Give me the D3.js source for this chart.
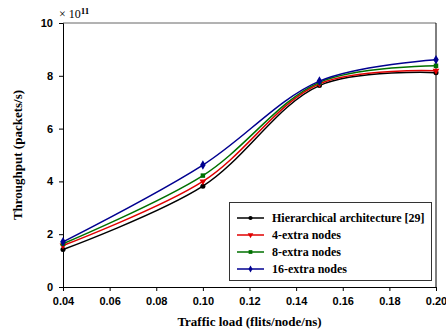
<!DOCTYPE html>
<html>
<head>
<meta charset="utf-8">
<script src="https://cdn.jsdelivr.net/npm/d3@7"></script>
<style>
  body { margin: 0; background: #fff; }
  svg text { fill: #000; }
</style>
</head>
<body>
<div id="chart"></div>
<script>
// traffic load (flits/node/ns)
var loads = [0.04, 0.10, 0.15, 0.20];
// throughput, x 10^11 packets/s
var hierarchical = [1.42, 3.82, 7.63, 8.12];
var extra4 = [1.57, 4.0, 7.7, 8.19];
var extra8 = [1.64, 4.22, 7.75, 8.38];
var extra16 = [1.71, 4.62, 7.8, 8.61];
var seriesNames = ["Hierarchical architecture [29]", "4-extra nodes", "8-extra nodes", "16-extra nodes"];
var xTicks = [0.04, 0.06, 0.08, 0.10, 0.12, 0.14, 0.16, 0.18, 0.20];
var yTicks = [0, 2, 4, 6, 8, 10];

var width = 446, height = 335;
var margin = {top: 23, right: 10, bottom: 48, left: 63};

var svg = d3.select("#chart").append("svg")
    .attr("width", width).attr("height", height);

var x = d3.scaleLinear().domain([0.04, 0.20]).range([margin.left, width - margin.right]);
var y = d3.scaleLinear().domain([0, 10]).range([height - margin.bottom, margin.top]);

var series = [
  {name: seriesNames[0], values: hierarchical, color: "#000000", symbol: d3.symbolCircle},
  {name: seriesNames[1], values: extra4, color: "#e00000", symbol: d3.symbolTriangle, flip: true},
  {name: seriesNames[2], values: extra8, color: "#007000", symbol: d3.symbolSquare},
  {name: seriesNames[3], values: extra16, color: "#000090", symbol: d3.symbolDiamond}
];

// frame: gray top, black right
svg.append("line")
  .attr("x1", x(0.04)).attr("x2", x(0.20))
  .attr("y1", y(10)).attr("y2", y(10))
  .attr("stroke", "#666").attr("stroke-width", 1);
svg.append("line")
  .attr("x1", x(0.20)).attr("x2", x(0.20))
  .attr("y1", y(10)).attr("y2", y(0))
  .attr("stroke", "#000").attr("stroke-width", 1);

var xAxis = svg.append("g")
  .attr("transform", "translate(0," + y(0) + ")")
  .call(d3.axisBottom(x).tickValues(xTicks).tickFormat(d3.format(".2f")).tickSize(4).tickPadding(6));
var yAxis = svg.append("g")
  .attr("transform", "translate(" + x(0.04) + ",0)")
  .call(d3.axisLeft(y).tickValues(yTicks).tickFormat(d3.format("d")).tickSize(4).tickPadding(6));

[xAxis, yAxis].forEach(function(a) {
  a.selectAll("path, line").attr("stroke", "#000");
  a.selectAll("text")
    .attr("font-family", "Liberation Sans, Arial, sans-serif")
    .attr("font-weight", "bold")
    .attr("font-size", "11px")
    .attr("fill", "#000");
});

// multiplier
var mult = svg.append("text")
  .attr("x", 59).attr("y", 18)
  .attr("font-family", "Liberation Serif, Times New Roman, serif")
  .attr("font-size", "12px");
mult.append("tspan").text("\u00d7 10");
mult.append("tspan").attr("dy", -4).attr("font-size", "9px").attr("font-weight", "bold").text("11");

// axis titles
svg.append("text")
  .attr("x", (x(0.04) + x(0.20)) / 2).attr("y", 326)
  .attr("text-anchor", "middle")
  .attr("font-family", "Liberation Serif, Times New Roman, serif")
  .attr("font-weight", "bold").attr("font-size", "13px")
  .text("Traffic load (flits/node/ns)");
svg.append("text")
  .attr("transform", "translate(22," + (y(0) + y(10)) / 2 + ") rotate(-90)")
  .attr("text-anchor", "middle")
  .attr("font-family", "Liberation Serif, Times New Roman, serif")
  .attr("font-weight", "bold").attr("font-size", "13px")
  .text("Throughput (packets/s)");

var line = d3.line()
  .x(function(d, i) { return x(loads[i]); })
  .y(function(d) { return y(d); })
  .curve(d3.curveCatmullRom.alpha(0.5));

function marker(s) {
  return d3.symbol().type(s.symbol).size(s.symbol === d3.symbolDiamond ? 26 : 20)();
}

series.forEach(function(s) {
  svg.append("path")
    .attr("d", line(s.values))
    .attr("fill", "none")
    .attr("stroke", s.color)
    .attr("stroke-width", 1.5);
  svg.selectAll(null).data(s.values).enter().append("path")
    .attr("d", marker(s))
    .attr("transform", function(d, i) {
      return "translate(" + x(loads[i]) + "," + y(d) + ")" + (s.flip ? " rotate(180)" : "");
    })
    .attr("fill", s.color);
});

// legend
var legend = svg.append("g");
legend.append("rect")
  .attr("x", 229.5).attr("y", 202.5).attr("width", 202).attr("height", 78)
  .attr("fill", "#fff").attr("stroke", "#333").attr("stroke-width", 1);
series.forEach(function(s, i) {
  var ly = 218 + i * 17;
  legend.append("line")
    .attr("x1", 237).attr("x2", 264).attr("y1", ly).attr("y2", ly)
    .attr("stroke", s.color).attr("stroke-width", 1.5);
  legend.append("path")
    .attr("d", d3.symbol().type(s.symbol).size(14)())
    .attr("transform", "translate(250.5," + ly + ")" + (s.flip ? " rotate(180)" : ""))
    .attr("fill", s.color);
  legend.append("text")
    .attr("x", 272).attr("y", ly + 4)
    .attr("font-family", "Liberation Serif, Times New Roman, serif")
    .attr("font-weight", "bold").attr("font-size", "12px")
    .text(s.name);
});
</script>
</body>
</html>
